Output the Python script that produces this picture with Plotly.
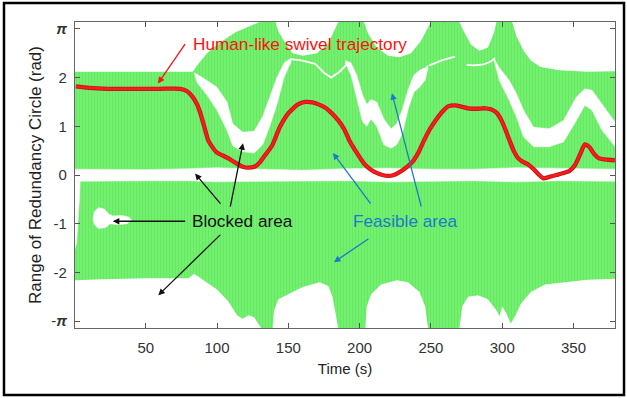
import math
import plotly.graph_objects as go

PI = math.pi

# ---------------- data ----------------
# feasible (green) region: upper and lower envelope
upper_t = [0, 83, 86, 93, 100, 107, 113, 120, 127, 130, 141, 143, 148, 153, 160, 170, 178, 183, 185,
           203, 206, 212, 220, 228, 236, 243, 248, 250, 270, 273, 278, 284, 290, 294, 296, 307, 310,
           315, 320, 327, 340, 360, 380]
upper_v = [2.12, 2.12, 2.25, 2.5, 2.68, 2.82, 2.93, 3.02, 3.1, PI, PI, 2.95, 2.7, 2.5, 2.45, 2.5, 2.7, 3.0, PI,
           PI, 2.9, 2.62, 2.45, 2.42, 2.5, 2.75, 3.05, PI, PI, 2.95, 2.68, 2.55, 2.62, 2.9, PI, PI, 2.85,
           2.55, 2.35, 2.22, 2.15, 2.12, 2.13]
lower_t = [0, 20, 50, 80, 84, 90, 100, 108, 114, 118, 122, 126, 129, 131, 139, 140, 143, 151, 160, 172, 178,
           181, 183, 185, 204, 205, 208, 215, 226, 234, 242, 246, 248, 270, 272, 276, 283, 290, 296, 298,
           300, 303, 306, 309, 313, 320, 330, 345, 360, 380]
lower_v = [-2.16, -2.14, -2.12, -2.12, -2.03, -2.15, -2.35, -2.6, -2.88, -2.95, -2.88, -2.92, -3.05, -PI, -PI,
           -2.78, -2.55, -2.43, -2.3, -2.2, -2.28, -2.5, -2.8, -PI, -PI, -2.7, -2.45, -2.25, -2.16, -2.2,
           -2.4, -2.7, -PI, -PI, -2.7, -2.5, -2.47, -2.55, -2.78, -2.9, -2.7, -2.85, -3.05, -2.9, -2.65,
           -2.4, -2.25, -2.2, -2.15, -2.13]

# blocked (white) regions inside the green
center_t = [0, 20, 50, 80, 100, 130, 160, 190, 220, 250, 280, 310, 340, 380]
center_hi = [0.12, 0.12, 0.11, 0.13, 0.15, 0.12, 0.10, 0.13, 0.14, 0.12, 0.12, 0.15, 0.14, 0.12]
center_lo = [-0.13, -0.12, -0.12, -0.12, -0.14, -0.13, -0.12, -0.12, -0.14, -0.13, -0.12, -0.14, -0.12, -0.13]

band1_t = [84, 86, 93, 100, 107, 111, 118, 126, 132, 137, 142, 147, 152]
band1_hi = [2.1, 2.07, 1.94, 1.8, 1.5, 1.05, 0.88, 0.9, 1.2, 1.6, 2.0, 2.3, 2.4]
band1_lo = [2.1, 1.9, 1.64, 1.33, 0.92, 0.6, 0.48, 0.45, 0.62, 1.0, 1.45, 2.0, 2.33]

band2_t = [190, 194, 198, 202, 205, 208, 212, 217, 222, 226, 230, 234, 238, 242, 246, 248]
band2_hi = [2.35, 2.3, 2.05, 1.65, 1.45, 1.55, 1.5, 1.15, 0.95, 1.05, 1.35, 1.75, 2.05, 2.15, 2.2, 2.25]
band2_lo = [2.3, 2.05, 1.6, 1.1, 1.0, 1.15, 1.0, 0.62, 0.55, 0.62, 0.85, 1.35, 1.7, 1.8, 1.95, 2.2]

band3_t = [294, 298, 305, 310, 315, 322, 333, 343, 352, 358, 363, 370, 380]
band3_hi = [2.4, 2.2, 1.94, 1.67, 1.33, 0.98, 0.95, 1.12, 1.6, 1.77, 1.74, 1.46, 1.05]
band3_lo = [2.38, 1.94, 1.53, 1.19, 0.78, 0.58, 0.58, 0.68, 1.12, 1.43, 1.33, 0.92, 0.55]

blob_t = [13, 14, 17, 21, 24, 27, 33, 38, 40, 37, 30, 25, 22, 17, 14, 13]
blob_v = [-0.9, -0.75, -0.67, -0.7, -0.8, -0.84, -0.83, -0.86, -0.92, -1.0, -1.02, -1.0, -1.08, -1.1, -1.02, -0.9]

sliver_t = [0, 4, 3.5, 2.5, 1.5, 0]
sliver_v = [-0.13, -0.13, -0.5, -1.0, -1.4, -1.55]

crack1_t = [152, 160, 169, 175, 180, 186, 192]
crack1_v = [2.38, 2.35, 2.28, 2.1, 2.0, 2.12, 2.3]
crack2_t = [249, 253, 258, 263, 267]
crack2_v = [2.25, 2.3, 2.36, 2.4, 2.43]
crack3_t = [275, 280, 287, 292, 295]
crack3_v = [2.26, 2.25, 2.27, 2.33, 2.4]

# human-like swivel trajectory
traj_t = [1, 10, 23, 40, 60, 74, 79, 83, 86, 88, 91, 94, 99.5, 104, 108, 113, 118, 122, 127, 130, 133,
          138.5, 144, 149.8, 156.8, 162, 167, 172, 176, 180, 185, 189, 193, 197.5, 203, 207, 211.5, 216,
          220, 224, 228, 232, 237, 241, 245, 249, 253.5, 258, 262, 267, 272, 276, 282, 288, 292, 296, 299,
          302, 305, 308, 311, 314, 318, 322, 326, 329, 333, 338, 343, 347, 351, 355, 358, 361, 364, 368,
          372, 379]
traj_v = [1.82, 1.79, 1.77, 1.77, 1.77, 1.77, 1.72, 1.6, 1.45, 1.3, 1.0, 0.7, 0.47, 0.4, 0.34, 0.25, 0.17,
          0.15, 0.18, 0.26, 0.38, 0.6, 0.98, 1.26, 1.45, 1.5, 1.49, 1.44, 1.38, 1.28, 1.12, 0.95, 0.7, 0.48,
          0.24, 0.13, 0.05, 0.0, -0.02, 0.0, 0.06, 0.14, 0.27, 0.45, 0.7, 0.93, 1.13, 1.3, 1.41, 1.43, 1.4,
          1.37, 1.36, 1.37, 1.35, 1.28, 1.15, 0.95, 0.72, 0.5, 0.35, 0.28, 0.22, 0.12, 0.0, -0.07, -0.04,
          0.0, 0.04, 0.08, 0.2, 0.45, 0.63, 0.58, 0.45, 0.34, 0.32, 0.3]

x_ticks = [50, 100, 150, 200, 250, 300, 350]
y_ticks = [-3, -2, -1, 0, 1, 2, 3]
y_ticktext = ["-<i><b>π</b></i>", "-2", "-1", "0", "1", "2", "<i><b>π</b></i>"]

# annotation arrows: (tip_t, tip_v, start_t, start_v, color)
arrows = [
    (58.6, 1.88, 78.3, 2.72, "#FF1010"),
    (26.9, -0.95, 78.7, -0.95, "#111111"),
    (84.6, 0.03, 103.3, -0.62, "#111111"),
    (118.2, 0.65, 109.1, -0.68, "#111111"),
    (58.8, -2.47, 103.3, -1.2, "#111111"),
    (181.3, 0.45, 208.5, -0.62, "#1F78C8"),
    (222.7, 1.68, 243.5, -0.68, "#1F78C8"),
    (182.0, -1.79, 207.3, -1.29, "#1F78C8"),
]
labels = [
    ("Human-like swivel trajectory", 82.0, 2.68, "left", "#FF1010"),
    ("Blocked area", 118.2, -0.95, "center", "#111111"),
    ("Feasible area", 232.2, -0.95, "center", "#1F78C8"),
]

# ---------------- figure ----------------
fig = go.Figure()

GREEN_BG = "#74F070"
GREEN_FG = "#58E054"

fig.add_trace(go.Scatter(
    x=upper_t + lower_t[::-1], y=upper_v + lower_v[::-1],
    mode="lines", fill="toself", line=dict(width=0, color=GREEN_BG),
    fillcolor=GREEN_BG,
    fillpattern=dict(shape="|", bgcolor=GREEN_BG, fgcolor=GREEN_FG, size=3, solidity=0.35),
    hoverinfo="skip", showlegend=False))


def white_poly(xs, ys):
    fig.add_trace(go.Scatter(x=xs, y=ys, mode="lines", fill="toself", fillcolor="white",
                             line=dict(width=0.5, color="white"), hoverinfo="skip", showlegend=False))


for bt, bh, bl in [(center_t, center_hi, center_lo), (band1_t, band1_hi, band1_lo),
                   (band2_t, band2_hi, band2_lo), (band3_t, band3_hi, band3_lo)]:
    white_poly(bt + bt[::-1], bh + bl[::-1])
white_poly(blob_t, blob_v)
white_poly(sliver_t, sliver_v)

for ct, cv in [(crack1_t, crack1_v), (crack2_t, crack2_v), (crack3_t, crack3_v)]:
    fig.add_trace(go.Scatter(x=ct, y=cv, mode="lines", line=dict(color="white", width=1.8),
                             hoverinfo="skip", showlegend=False))

fig.add_trace(go.Scatter(x=traj_t, y=traj_v, mode="lines", line=dict(color="#C0161A", width=4.3, shape="spline", smoothing=0.6),
                         hoverinfo="skip", showlegend=False))
fig.add_trace(go.Scatter(x=traj_t, y=traj_v, mode="lines", line=dict(color="#FF1A1A", width=2.4, shape="spline", smoothing=0.6),
                         hoverinfo="skip", showlegend=False))

annotations = []
for tx, ty, sx, sy, col in arrows:
    annotations.append(dict(x=tx, y=ty, ax=sx, ay=sy, xref="x", yref="y", axref="x", ayref="y",
                            text="", showarrow=True, arrowhead=2, arrowsize=1.0, arrowwidth=1.3,
                            arrowcolor=col, standoff=0, startstandoff=0))
for txt, tx, ty, anc, col in labels:
    annotations.append(dict(x=tx, y=ty, xref="x", yref="y", text=txt, showarrow=False, xanchor=anc,
                            yanchor="middle", font=dict(size=17.2, color=col,
                                                        family="Liberation Sans, Arial, sans-serif")))

FONT = "Liberation Sans, Arial, sans-serif"
fig.update_layout(
    width=627, height=398,
    margin=dict(l=75, r=12, t=22, b=70),
    plot_bgcolor="white", paper_bgcolor="white",
    font=dict(family=FONT, color="#333333"),
    annotations=annotations,
    shapes=[dict(type="rect", xref="paper", yref="paper", x0=-0.1315, x1=1.0167, y0=-0.219, y1=1.062,
                 line=dict(color="black", width=2.5), layer="above")],
    xaxis=dict(range=[0.4, 379.1], tickvals=x_ticks, ticks="inside", ticklen=5, tickcolor="#555",
               showline=True, linecolor="#666", linewidth=1.2, mirror="ticks", showgrid=False,
               zeroline=False, tickfont=dict(size=15, color="#333"), ticklabelstandoff=6,
               title=dict(text="Time (s)", font=dict(size=15, color="#222"), standoff=8)),
    yaxis=dict(range=[-PI, PI], tickvals=y_ticks, ticktext=y_ticktext, ticks="inside", ticklen=5,
               tickcolor="#555", showline=True, linecolor="#666", linewidth=1.2, mirror="ticks",
               showgrid=False, zeroline=False, tickfont=dict(size=15, color="#333"),
               ticklabelstandoff=4,
               title=dict(text="Range of Redundancy Circle (rad)", font=dict(size=17, color="#222"),
                          standoff=5)),
)

fig.write_html("out.html")
